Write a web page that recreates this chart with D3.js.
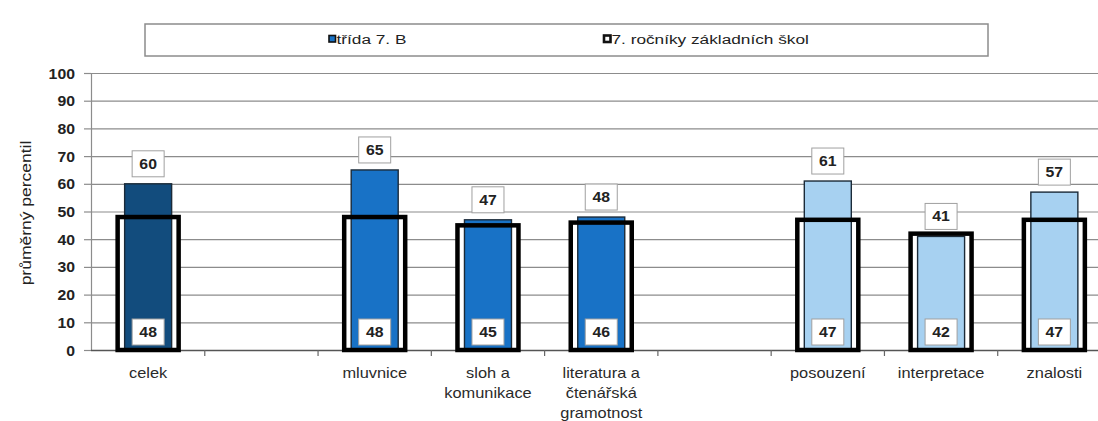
<!DOCTYPE html>
<html>
<head>
<meta charset="utf-8">
<script src="https://cdn.jsdelivr.net/npm/d3@7"></script>
<style>
  html, body { margin: 0; padding: 0; background: #fff; }
  svg { display: block; font-family: "Liberation Sans", Arial, sans-serif; }
</style>
</head>
<body>
<svg id="chart" width="1098" height="421"></svg>
<script>
// Category slots (empty strings are spacer slots between groups)
const categories = ["celek", "", "mluvnice", "sloh a\nkomunikace", "literatura a\nčtenářská\ngramotnost", "", "posouzení", "interpretace", "znalosti"];
// Average percentile of the class 7. B
const classValues = [60, null, 65, 47, 48, null, 61, 41, 57];
// Average percentile of all 7th grades
const nationalValues = [48, null, 48, 45, 46, null, 47, 42, 47];
// Colour group of each slot
const colorGroup = [0, null, 1, 1, 1, null, 2, 2, 2];
const groupColors = ["#124c7d", "#1872c6", "#a7d1f1"];
const yTicks = [0, 10, 20, 30, 40, 50, 60, 70, 80, 90, 100];
const seriesNames = ["třída  7. B", "7. ročníky základních škol"];
const yTitle = "průměrný percentil";

const svg = d3.select("#chart");
const SX = 1.13; // glyphs are drawn a little wider than tall

const x = d3.scaleBand().domain(d3.range(categories.length)).range([91.5, 1111]).paddingInner(0).paddingOuter(0);
const y = d3.scaleLinear().domain([0, 100]).range([350, 73]);

function placeText(sel, px, py, sx = SX) {
  return sel.attr("transform", `translate(${px},${py}) scale(${sx},1)`);
}

// gridlines
svg.append("g").selectAll("line").data(yTicks.filter(t => t > 0)).join("line")
  .attr("x1", 91).attr("x2", 1111)
  .attr("y1", d => y(d) + 0.5).attr("y2", d => y(d) + 0.5)
  .attr("stroke", "#8c8c8c").attr("stroke-width", 1.2);

// y axis
const yAxis = svg.append("g").attr("transform", "translate(91,0)")
  .call(d3.axisLeft(y).tickValues(yTicks).tickSize(7).tickPadding(4).tickFormat(d3.format("d")));
yAxis.select(".domain").attr("stroke", "#8c8c8c").attr("stroke-width", 1.2);
yAxis.selectAll(".tick line").attr("stroke", "#8c8c8c").attr("stroke-width", 1.2);
yAxis.selectAll(".tick text").each(function() {
  const t = d3.select(this);
  t.attr("x", null).attr("dy", null).attr("font-size", 14).attr("font-weight", "bold")
   .attr("fill", "#222").attr("text-anchor", "end").attr("font-family", "Liberation Sans, Arial, sans-serif");
  placeText(t, -16, 5);
});

const bars = d3.range(categories.length).filter(i => classValues[i] !== null);
const classW = 47, natW = 61, natStroke = 4.5;
const cx = i => x(i) + x.bandwidth() / 2;

// white backing of the 7th-grade bars
svg.append("g").selectAll("rect").data(bars).join("rect")
  .attr("x", i => cx(i) - natW / 2).attr("width", natW)
  .attr("y", i => y(nationalValues[i])).attr("height", i => y(0) - y(nationalValues[i]))
  .attr("fill", "#fff");

// class bars
svg.append("g").selectAll("rect").data(bars).join("rect")
  .attr("x", i => cx(i) - classW / 2).attr("width", classW)
  .attr("y", i => y(classValues[i])).attr("height", i => y(0) - y(classValues[i]))
  .attr("fill", i => groupColors[colorGroup[i]])
  .attr("stroke", "#1b2a38").attr("stroke-width", 1.4);

// x axis line and ticks
svg.append("line").attr("x1", 91).attr("x2", 1111).attr("y1", y(0) + 0.5).attr("y2", y(0) + 0.5)
  .attr("stroke", "#555").attr("stroke-width", 1.5);
svg.append("g").selectAll("line").data(d3.range(1, categories.length)).join("line")
  .attr("x1", i => x(i)).attr("x2", i => x(i))
  .attr("y1", y(0)).attr("y2", y(0) + 6)
  .attr("stroke", "#666").attr("stroke-width", 1.2);

// 7th-grade outlines
svg.append("g").selectAll("rect").data(bars).join("rect")
  .attr("x", i => cx(i) - natW / 2).attr("width", natW)
  .attr("y", i => y(nationalValues[i])).attr("height", i => y(0) - y(nationalValues[i]))
  .attr("fill", "none").attr("stroke", "#000").attr("stroke-width", natStroke);

// value label boxes
function labelBox(g, px, bottom, text) {
  const w = 32, h = 26;
  g.append("rect").attr("x", px - w / 2).attr("y", bottom - h).attr("width", w).attr("height", h)
    .attr("fill", "#fff").attr("stroke", "#a0a0a0").attr("stroke-width", 1);
  placeText(g.append("text").attr("text-anchor", "middle").attr("font-size", 14)
    .attr("font-weight", "bold").attr("fill", "#222").text(text), px, bottom - h / 2 + 5);
}
const labels = svg.append("g");
bars.forEach(i => {
  labelBox(labels, cx(i), y(classValues[i]) - 7, classValues[i]);
  labelBox(labels, cx(i), y(0) - 5, nationalValues[i]);
});

// category labels
const catG = svg.append("g");
bars.forEach(i => {
  categories[i].split("\n").forEach((line, k) => {
    placeText(catG.append("text").attr("text-anchor", "middle").attr("font-size", 14.5)
      .attr("fill", "#2a2a2a").text(line), cx(i), 378 + k * 20);
  });
});

// y axis title
svg.append("text").attr("text-anchor", "middle").attr("font-size", 14).attr("fill", "#222")
  .attr("transform", "translate(31,213) rotate(-90) scale(1.25,1)").text(yTitle);

// legend
const leg = svg.append("g");
leg.append("rect").attr("x", 145).attr("y", 24).attr("width", 843).attr("height", 32)
  .attr("fill", "#fff").attr("stroke", "#8c8c8c").attr("stroke-width", 1.5);
const legItems = [
  { x: 329, fill: groupColors[1], sw: 1.6, name: seriesNames[0] },
  { x: 604, fill: "#fff", sw: 2.6, name: seriesNames[1] }
];
legItems.forEach(it => {
  leg.append("rect").attr("x", it.x).attr("y", 35.5).attr("width", 6.5).attr("height", 6.5)
    .attr("fill", it.fill).attr("stroke", "#111").attr("stroke-width", it.sw);
  placeText(leg.append("text").attr("font-size", 12.5).attr("fill", "#222").text(it.name), it.x + 7.5, 43.5, 1.38);
});
</script>
</body>
</html>
